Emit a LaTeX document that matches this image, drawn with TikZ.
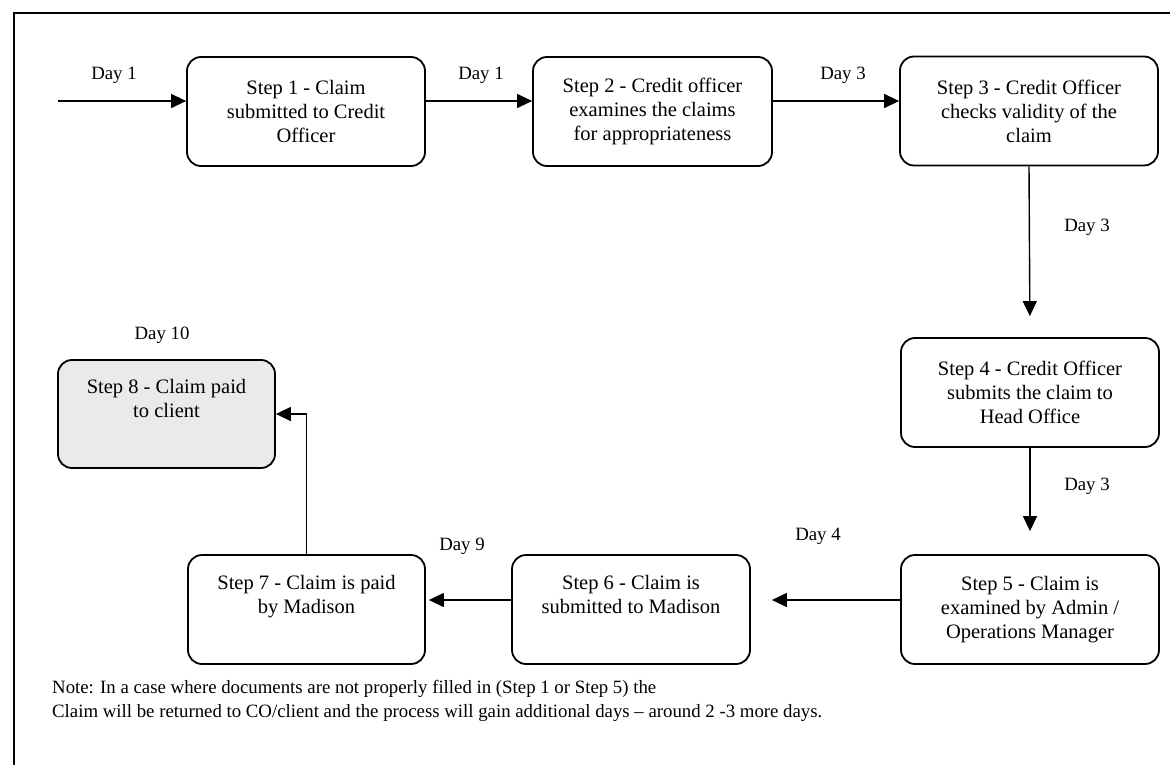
\documentclass[tikz,border=0pt]{standalone}
\usepackage{fontspec}
\setmainfont{Liberation Serif}
\usetikzlibrary{arrows.meta}
\begin{document}
\begin{tikzpicture}[x=1pt,y=-1pt,
  stepbox/.style={draw, line width=1.8pt, rounded corners=14pt, align=center,
    inner sep=0pt, minimum height=109pt, font=\fontsize{20.5}{24}\selectfont},
  lbl/.style={font=\fontsize{18.8}{22}\selectfont, inner sep=0pt},
  flow/.style={line width=1.4pt, -{Triangle[length=15pt,width=14pt]}}]
\useasboundingbox (0,0) rectangle (1170,765);
\begin{scope}
\clip (0,0) rectangle (1170,765);
\draw[line width=1.8pt] (14,13) rectangle (1190,790);
\end{scope}
\node[stepbox, minimum width=238pt] (s1) at (306,111.5) {Step 1 - Claim\\submitted to Credit\\Officer};
\node[stepbox, minimum width=239pt] (s2) at (652.5,111.5) {Step 2 - Credit officer\\examines the claims\\for appropriateness};
\node[stepbox, minimum width=258pt] (s3) at (1029,111) {Step 3 - Credit Officer\\checks validity of the\\claim};
\node[stepbox, minimum width=258pt] (s4) at (1030,392.5) {Step 4 - Credit Officer\\submits the claim to\\Head Office};
\node[stepbox, minimum width=258pt] (s5) at (1030,609.5) {Step 5 - Claim is\\examined by Admin /\\Operations Manager};
\node[stepbox, minimum width=238pt] (s6) at (631,609.5) {Step 6 - Claim is\\submitted to Madison\\\strut};
\node[stepbox, minimum width=237pt] (s7) at (306.5,609.5) {Step 7 - Claim is paid\\by Madison\\\strut};
\node[stepbox, minimum width=217pt, minimum height=108pt, fill={rgb,255:red,234;green,234;blue,234}] (s8) at (166.5,414) {Step 8 - Claim paid\\to client\\\strut};
\coordinate (start) at (58,101);
\coordinate (low) at (0,600);
\draw[flow] (start) -- (start -| s1.west);
\draw[flow] (s1.east |- start) -- (s2.west |- start);
\draw[flow] (s2.east |- start) -- (s3.west |- start);
\draw[flow, shorten >=21pt] (s3.south) -- (s4.north);
\draw[flow, shorten >=23pt] (s4.south) -- (s5.north);
\draw[flow, shorten >=21pt] (s5.west |- low) -- (s6.east |- low);
\draw[flow, shorten >=3pt] (s6.west |- low) -- (s7.east |- low);
\draw[flow] (s7.north) |- (s8.east);
\node[lbl] (d1) at (114,75) {Day 1};
\node[lbl] (d2) at (481,75) {Day 1};
\node[lbl] (d3) at (843,75) {Day 3};
\node[lbl] (d4) at (1087,227) {Day 3};
\node[lbl] (d5) at (1087,486) {Day 3};
\node[lbl] (d6) at (818,536) {Day 4};
\node[lbl] (d7) at (462,546) {Day 9};
\node[lbl] (d8) at (162,335) {Day 10};
\node[lbl, anchor=west, align=left, font=\fontsize{18.8}{24}\selectfont] (note) at (52,701) {Note: In a case where documents are not properly filled in (Step 1 or Step 5) the\\Claim will be returned to CO/client and the process will gain additional days – around 2 -3 more days.};
\end{tikzpicture}
\end{document}
